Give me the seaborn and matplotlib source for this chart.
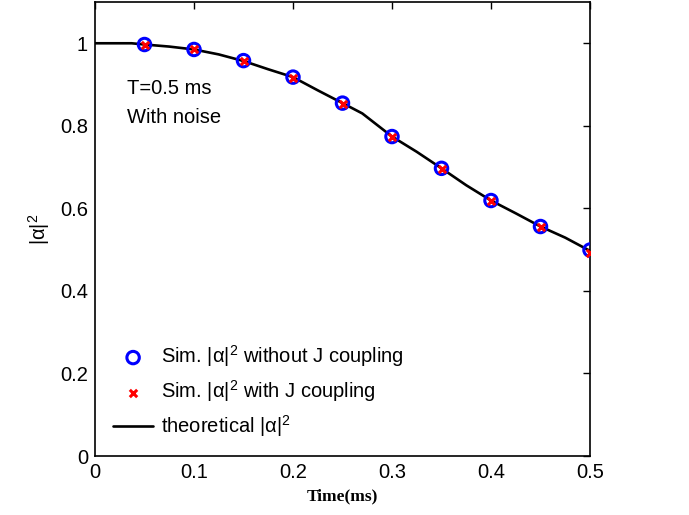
import numpy as np
import pandas as pd
import matplotlib
matplotlib.use("Agg")
import matplotlib.pyplot as plt
import seaborn as sns
from matplotlib.ticker import FuncFormatter

# ---- data ----
t_sim = [0.05, 0.10, 0.15, 0.20, 0.25, 0.30, 0.35, 0.40, 0.45, 0.50]
sim_noJ = [0.997, 0.985, 0.958, 0.918, 0.855, 0.774, 0.697, 0.619, 0.556, 0.499]
sim_J = [0.997, 0.985, 0.957, 0.917, 0.854, 0.773, 0.696, 0.617, 0.554, 0.493]

t_theory = [0.0, 0.025, 0.037, 0.05, 0.075, 0.10, 0.125, 0.15, 0.175, 0.20,
            0.225, 0.25, 0.27, 0.30, 0.325, 0.35, 0.375, 0.40, 0.425, 0.45,
            0.475, 0.50]
theory = [1.0, 1.0, 1.0, 0.997, 0.992, 0.985, 0.973, 0.957, 0.937, 0.918,
          0.886, 0.855, 0.830, 0.774, 0.737, 0.697, 0.656, 0.619, 0.588, 0.556,
          0.529, 0.497]

xticks = [0, 0.1, 0.2, 0.3, 0.4, 0.5]
yticks = [0, 0.2, 0.4, 0.6, 0.8, 1.0]

sns.set_theme(style="white")
plt.rcParams['font.family'] = ['Liberation Sans', 'DejaVu Sans']
plt.rcParams['mathtext.fontset'] = 'custom'
plt.rcParams['mathtext.rm'] = 'Liberation Sans'
plt.rcParams['mathtext.it'] = 'Liberation Sans'
for k in ['text.color', 'axes.labelcolor', 'xtick.color', 'ytick.color',
          'axes.edgecolor']:
    plt.rcParams[k] = 'black'

FS = 14.5

fig = plt.figure(figsize=(6.89, 5.15), dpi=100)
ax = fig.add_axes([95/689, 59/515, 495/689, 454/515])

df_th = pd.DataFrame({"t": t_theory, "y": theory})
df_s = pd.DataFrame({"t": t_sim, "a": sim_noJ, "b": sim_J})

sns.lineplot(data=df_th, x="t", y="y", ax=ax, color="black", linewidth=1.9,
             label="theoretical |α|$^2$", zorder=2)
sns.scatterplot(data=df_s, x="t", y="a", ax=ax, marker="o", s=80,
                facecolors="none", edgecolor="#0000ff", linewidth=2.2,
                label="Sim. |α|$^2$ without J coupling", zorder=3)
sns.scatterplot(data=df_s, x="t", y="b", ax=ax, marker="x", s=28,
                color="#ff0000", linewidth=2.2,
                label="Sim. |α|$^2$ with J coupling", zorder=4)

ax.set_xlim(0, 0.5)
ax.set_ylim(0, 1.1)
ax.set_xticks(xticks)
ax.set_yticks(yticks)
fmt = FuncFormatter(lambda v, p: "%g" % v)
ax.xaxis.set_major_formatter(fmt)
ax.yaxis.set_major_formatter(fmt)
ax.tick_params(direction="in", length=5, width=1, top=True, right=True,
               labelsize=FS, colors="black", pad=5)
for s in ax.spines.values():
    s.set_color("black")
    s.set_linewidth(1.2)

ax.set_xlabel("Time(ms)", fontsize=12.5, fontweight="bold",
              family=["Liberation Serif"], labelpad=5)
ax.set_ylabel("|α|$^2$", fontsize=FS, labelpad=6)

ax.text(0.032, 0.891, "T=0.5 ms", fontsize=FS, va="center", ha="left")
ax.text(0.032, 0.821, "With noise", fontsize=FS, va="center", ha="left")

h, l = ax.get_legend_handles_labels()
order = [1, 2, 0]
ax.legend([h[i] for i in order], [l[i] for i in order], loc="center left",
          bbox_to_anchor=(0.02, 0.143), frameon=False, fontsize=FS,
          handlelength=2.0, handletextpad=0.4, labelspacing=0.45,
          borderaxespad=0)

fig.savefig("out.png", dpi=100)
